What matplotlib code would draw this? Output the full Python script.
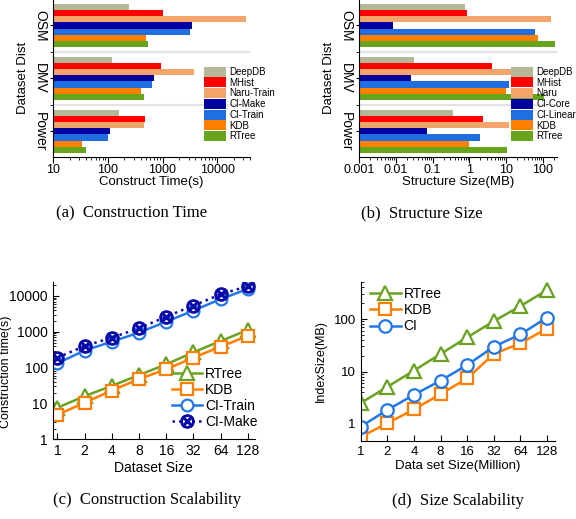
import matplotlib
matplotlib.use("Agg")
import matplotlib.pyplot as plt
import matplotlib.ticker as mticker
from matplotlib.legend_handler import HandlerTuple
import numpy as np

plt.rcParams['font.family'] = ['Liberation Sans', 'DejaVu Sans']

# ---- data ----
datasets = ['Power', 'DMV', 'OSM']

time_methods = ['DeepDB', 'MHist', 'Naru-Train', 'CI-Make', 'CI-Train', 'KDB', 'RTree']
time_osm = [240, 1000, 34000, 3500, 3200, 500, 550]
time_dmv = [120, 930, 3700, 700, 630, 410, 450]
time_power = [163, 480, 465, 109, 100, 33, 39]

size_methods = ['DeepDB', 'MHist', 'Naru', 'CI-Core', 'CI-Linear', 'KDB', 'RTree']
size_osm = [0.75, 0.86, 170, 0.0081, 62, 73, 218]
size_dmv = [0.031, 4.2, 30, 0.025, 12, 10, 105]
size_power = [0.35, 2.4, 12, 0.069, 2.0, 1.0, 10.4]

scale_labels = ['1', '2', '4', '8', '16', '32', '64', '128']
ct_rtree = [7.6, 16, 31, 62, 124, 268, 555, 1120]
ct_kdb = [4.8, 10.5, 23, 48, 90, 190, 385, 770]
ct_ci_train = [132, 300, 530, 950, 1920, 3900, 8200, 15700]
ct_ci_make = [190, 400, 690, 1250, 2650, 5400, 11100, 19000]

sz_rtree = [2.5, 5.1, 10.4, 21.6, 44.7, 91, 177, 356]
sz_kdb = [0.57, 1.03, 1.9, 3.7, 7.4, 21.6, 34.5, 66]
sz_ci = [0.89, 1.85, 3.6, 6.7, 13.3, 29.7, 51, 107]

bar_colors = ['#b5b796', '#ff0000', '#f4a56c', '#0000a0', '#1f6fe0', '#ff8000', '#67a61c']

W, H = 576, 519
fig = plt.figure(figsize=(W / 100, H / 100), dpi=100)


def px_axes(l, t, r, b):
    return fig.add_axes([l / W, 1 - b / H, (r - l) / W, (b - t) / H])


def bar_panel(ax, values_by_ds, labels, xlim, xticks, xlabel, legend_x):
    n = len(labels)
    h = 0.117
    y0 = np.arange(len(datasets))
    for i in range(n):
        vals = [v[i] for v in values_by_ds]
        ax.barh(y0 + (3 - i) * h, vals, height=h, left=1e-9,
                color=bar_colors[i], label=labels[i], edgecolor='none')
    ax.set_xscale('log')
    ax.set_xlim(*xlim)
    ax.set_ylim(-0.48, 2.48)
    for yb in [0.5, 1.5]:
        ax.axhline(yb, color='#e3e3e3', lw=1.6, zorder=0)
    ax.set_yticks(y0)
    ax.set_yticklabels(datasets, rotation=-90, va='center', fontsize=10)
    ax.set_yticks([0.5, 1.5], minor=True)
    ax.tick_params(axis='y', which='both', length=2.5, direction='out', pad=2)
    ax.set_xticks(xticks)
    ax.xaxis.set_major_formatter(mticker.FuncFormatter(lambda v, p: ('%g' % v)))
    ax.tick_params(axis='x', which='major', labelsize=9, length=4, pad=1)
    ax.tick_params(axis='x', which='minor', length=2)
    ax.set_xlabel(xlabel, fontsize=9.5, labelpad=0)
    ax.set_ylabel('Dataset Dist', fontsize=9.5, labelpad=3)
    for s in ['top', 'right']:
        ax.spines[s].set_visible(False)
    ax.legend(loc='upper left', bbox_to_anchor=legend_x, frameon=False,
              fontsize=7, handlelength=2.3, handleheight=1.2, handletextpad=0.3,
              labelspacing=0.05, borderpad=0, borderaxespad=0)


# (a) construction time
ax_a = px_axes(53.3, 0, 250, 156.7)
bar_panel(ax_a, [time_power, time_dmv, time_osm], time_methods, (10, 40000),
          [10, 100, 1000, 10000], 'Construct Time(s)', (151 / 197, 0.575))

# (b) structure size
ax_b = px_axes(359.3, 0, 557, 156.7)
bar_panel(ax_b, [size_power, size_dmv, size_osm], size_methods, (0.001, 245),
          [0.001, 0.01, 0.1, 1, 10, 100], 'Structure Size(MB)', (152 / 198, 0.575))

x = np.arange(len(scale_labels))

# (c) construction scalability
ax_c = px_axes(52.7, 281.7, 255, 439.3)
l1, = ax_c.plot(x, ct_rtree, '-', color='#6aa221', lw=1.8, marker='^', ms=9.5,
                mfc='white', mew=1.6)
l2, = ax_c.plot(x, ct_kdb, '-', color='#ff8000', lw=1.8, marker='s', ms=8,
                mfc='white', mew=1.6)
l3, = ax_c.plot(x, ct_ci_train, '-', color='#2377e6', lw=1.8, marker='o', ms=8.5,
                mfc='white', mew=1.6)
l4, = ax_c.plot(x, ct_ci_make, ':', color='#0a0aa8', lw=1.8, marker='o', ms=8.5,
                mfc='none', mew=2)
l4x, = ax_c.plot(x, ct_ci_make, ' ', color='#0a0aa8', marker='x', ms=6.5, mew=2.2)
ax_c.set_yscale('log')
ax_c.set_ylim(1, 25000)
ax_c.set_xlim(-0.17, 7.26)
ax_c.set_xticks(x)
ax_c.set_xticklabels(scale_labels)
ax_c.set_yticks([1, 10, 100, 1000, 10000])
ax_c.yaxis.set_major_formatter(mticker.FuncFormatter(lambda v, p: '%g' % v))
ax_c.tick_params(axis='both', which='major', labelsize=10, direction='in', length=4)
ax_c.tick_params(axis='both', which='minor', direction='in', length=2)
ax_c.set_xlabel('Dataset Size', fontsize=10, labelpad=2)
ax_c.set_ylabel('Construction time(s)', fontsize=9)
ax_c.yaxis.set_label_coords(-0.2, 0.43)
for s in ['top', 'right']:
    ax_c.spines[s].set_visible(False)
ax_c.legend([l1, l2, l3, (l4, l4x)], ['RTree', 'KDB', 'CI-Train', 'CI-Make'],
            handler_map={tuple: HandlerTuple(ndivide=1, pad=0)},
            loc='lower right', bbox_to_anchor=(1.04, 0.03), frameon=False, fontsize=10,
            handlelength=2.2, handletextpad=0.2, labelspacing=0.15, borderaxespad=0)

# (d) size scalability
ax_d = px_axes(360.7, 281.7, 555, 440.7)
m1, = ax_d.plot(x, sz_rtree, '-', color='#6aa221', lw=1.8, marker='^', ms=10,
                mfc='white', mew=1.6)
m2, = ax_d.plot(x, sz_kdb, '-', color='#ff8000', lw=1.8, marker='s', ms=8,
                mfc='white', mew=1.6)
m3, = ax_d.plot(x, sz_ci, '-', color='#2377e6', lw=1.8, marker='o', ms=9,
                mfc='white', mew=1.6)
ax_d.set_yscale('log')
ax_d.set_ylim(0.48, 515)
ax_d.set_xlim(0, 7.3)
ax_d.set_xticks(x)
ax_d.set_xticklabels(scale_labels)
ax_d.set_yticks([1, 10, 100])
ax_d.yaxis.set_major_formatter(mticker.FuncFormatter(lambda v, p: '%g' % v))
ax_d.tick_params(axis='both', which='major', labelsize=9.5, direction='in', length=4)
ax_d.tick_params(axis='both', which='minor', direction='in', length=2)
ax_d.set_xlabel('Data set Size(Million)', fontsize=9.5, labelpad=2)
ax_d.set_ylabel('IndexSize(MB)', fontsize=9, labelpad=5)
for s in ['top', 'right']:
    ax_d.spines[s].set_visible(False)
ax_d.legend([m1, m2, m3], ['RTree', 'KDB', 'CI'], loc='upper left',
            bbox_to_anchor=(0.02, 1.0), frameon=False, fontsize=10,
            handlelength=2.2, handletextpad=0.2, labelspacing=0.15, borderaxespad=0)

# captions
cap = dict(fontsize=12, family=['Liberation Serif', 'DejaVu Serif'], ha='center', va='center')
fig.text(132 / W, 1 - 213 / H, '(a)  Construction Time', **cap)
fig.text(422 / W, 1 - 213 / H, '(b)  Structure Size', **cap)
fig.text(147 / W, 1 - 500 / H, '(c)  Construction Scalability', **cap)
fig.text(458 / W, 1 - 501 / H, '(d)  Size Scalability', **cap)

fig.savefig('out.png', dpi=100)
